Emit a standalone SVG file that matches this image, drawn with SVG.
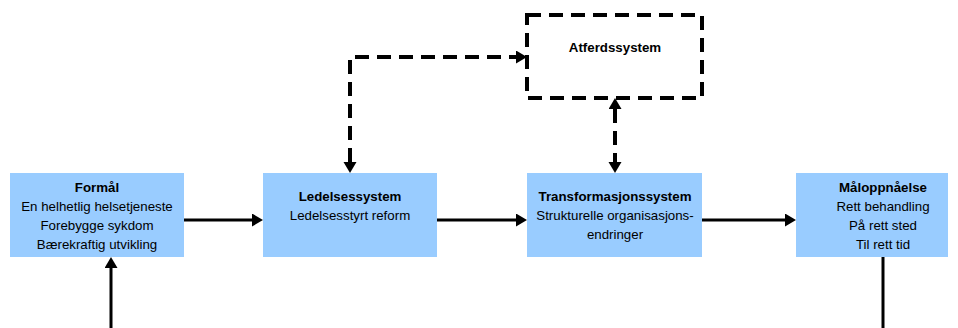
<svg xmlns="http://www.w3.org/2000/svg" width="958" height="328" viewBox="0 0 958 328">
  <style>
    .box { fill: #99ccff; stroke: none; }
    .dashbox { fill: none; stroke: #000; stroke-width: 4; stroke-dasharray: 14 8; }
    .t { font-family: "Liberation Sans", Arial, sans-serif; font-size: 13.3px; fill: #000; text-anchor: middle; }
    .b { font-weight: bold; }
    .solid { fill: none; stroke: #000; stroke-width: 3; }
    .dashed { fill: none; stroke: #000; stroke-width: 4; stroke-dasharray: 14 8; }
  </style>
  <defs>
    <marker id="head" markerUnits="userSpaceOnUse" markerWidth="12" markerHeight="14" refX="0" refY="6.5" orient="auto-start-reverse" viewBox="0 0 12 14">
      <path d="M0,0 L11,6.5 L0,13 z" fill="#000" stroke="none"/>
    </marker>
  </defs>
  <rect width="958" height="328" fill="#fff"/>

  <g id="formal">
    <rect class="box" x="10" y="173" width="174" height="84"/>
    <text class="t b" x="97" y="192">Formål</text>
    <text class="t" x="97" y="211">En helhetlig helsetjeneste</text>
    <text class="t" x="97" y="230">Forebygge sykdom</text>
    <text class="t" x="97" y="249">Bærekraftig utvikling</text>
  </g>

  <g id="ledelsessystem">
    <rect class="box" x="263" y="173" width="174" height="84"/>
    <text class="t b" x="350" y="201">Ledelsessystem</text>
    <text class="t" x="350" y="220">Ledelsesstyrt reform</text>
  </g>

  <g id="transformasjonssystem">
    <rect class="box" x="527" y="173" width="175" height="84"/>
    <text class="t b" x="615" y="201">Transformasjonssystem</text>
    <text class="t" x="615" y="220">Strukturelle organisasjons-</text>
    <text class="t" x="615" y="239">endringer</text>
  </g>

  <g id="maloppnaelse">
    <rect class="box" x="796" y="173" width="152" height="84"/>
    <text class="t b" x="883" y="192">Måloppnåelse</text>
    <text class="t" x="883" y="211">Rett behandling</text>
    <text class="t" x="883" y="230">På rett sted</text>
    <text class="t" x="883" y="249">Til rett tid</text>
  </g>

  <g id="atferdssystem">
    <rect class="dashbox" x="527" y="15" width="175" height="83"/>
    <text class="t b" x="615" y="52">Atferdssystem</text>
  </g>

  <g id="connectors">
    <path class="solid" d="M184,220 H252" marker-end="url(#head)"/>
    <path class="solid" d="M437,220 H516" marker-end="url(#head)"/>
    <path class="solid" d="M702,220 H785" marker-end="url(#head)"/>
    <path class="solid" d="M111,328 V268" marker-end="url(#head)"/>
    <path class="solid" d="M883,257 V328"/>
    <path class="dashed" d="M350,162 V57 H516" marker-start="url(#head)" marker-end="url(#head)"/>
    <path class="dashed" d="M615,109 V162" marker-start="url(#head)" marker-end="url(#head)"/>
  </g>
</svg>
